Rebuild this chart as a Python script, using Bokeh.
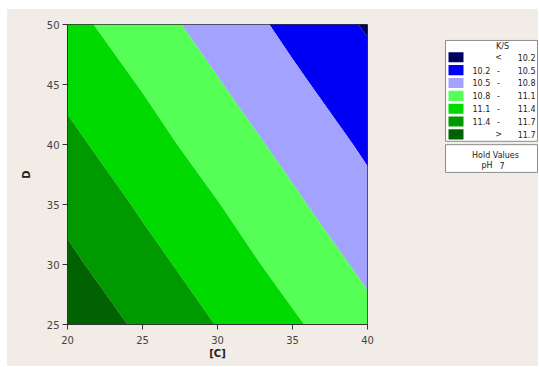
import numpy as np
from bokeh.plotting import figure
from bokeh.layouts import row, column
from bokeh.models import Range1d, Spacer
from bokeh.core.properties import value
from bokeh.embed import file_html
from bokeh.resources import INLINE

# ---- data ----
C_vals = [20, 25, 30, 35, 40]
D_vals = [25, 30, 35, 40, 45, 50]
# K/S values on the grid: one row per D value, one column per C value
KS = [
    [11.90, 11.65, 11.39, 11.14, 10.88],   # D = 25
    [11.76, 11.50, 11.25, 10.99, 10.74],   # D = 30
    [11.62, 11.36, 11.11, 10.85, 10.59],   # D = 35
    [11.47, 11.22, 10.96, 10.71, 10.45],   # D = 40
    [11.33, 11.08, 10.82, 10.56, 10.31],   # D = 45
    [11.19, 10.93, 10.68, 10.42, 10.17],   # D = 50
]
levels = [9.0, 10.2, 10.5, 10.8, 11.1, 11.4, 11.7, 13.0]
band_colors = ["#000060", "#0000F5", "#A3A3FF", "#55FF55", "#00DA00", "#009A00", "#006200"]
band_lo = ["", "10.2", "10.5", "10.8", "11.1", "11.4", ""]
band_mid = ["<", "-", "-", "-", "-", "-", ">"]
band_hi = ["10.2", "10.5", "10.8", "11.1", "11.4", "11.7", "11.7"]
x_ticks = [20, 25, 30, 35, 40]
y_ticks = [25, 30, 35, 40, 45, 50]
legend_title = "K/S"
hold_title = "Hold Values"
hold_name = "pH"
hold_value = "7"

BG = "#F1ECE6"
FONT = "DejaVu Sans"

# ---- main contour plot ----
PW, PH = 380, 357
p = figure(width=PW, height=PH, x_range=Range1d(20, 40), y_range=Range1d(25, 50),
           output_backend="svg", toolbar_location=None,
           min_border_left=60, min_border_right=20, min_border_top=15, min_border_bottom=42)
p.border_fill_color = BG
p.background_fill_color = BG
p.outline_line_color = "#333333"
p.grid.visible = False

X, Y = np.meshgrid(np.array(C_vals, dtype=float), np.array(D_vals, dtype=float))
Z = np.array(KS, dtype=float)
p.contour(X, Y, Z, levels, fill_color=band_colors, line_color=None)

p.xaxis.ticker = x_ticks
p.yaxis.ticker = y_ticks
for ax in (p.xaxis[0], p.yaxis[0]):
    ax.axis_line_color = "#333333"
    ax.major_tick_line_color = "#333333"
    ax.major_tick_out = 5
    ax.major_tick_in = 0
    ax.minor_tick_line_color = None
    ax.major_label_text_font = FONT
    ax.major_label_text_font_size = "10px"
    ax.major_label_text_color = "#444444"
    ax.axis_label_text_font = FONT
    ax.axis_label_text_font_size = "10px"
    ax.axis_label_text_font_style = "bold"
    ax.axis_label_text_color = "#222222"
p.xaxis.axis_label = "[C]"
p.yaxis.axis_label = "D"
p.xaxis.major_label_standoff = 6
p.xaxis.axis_label_standoff = 1
p.yaxis.major_label_standoff = 3
p.yaxis.axis_label_standoff = 12

# ---- legend panel ----
LW, LH = 151, PH
leg = figure(width=LW, height=LH, x_range=Range1d(0, LW), y_range=Range1d(LH, 0),
             output_backend="svg", toolbar_location=None,
             x_axis_location=None, y_axis_location=None, min_border=0)
leg.border_fill_color = BG
leg.background_fill_color = BG
leg.outline_line_color = None
leg.grid.visible = False

# boxes
leg.quad(left=[58, 58], right=[150, 150], top=[19, 143], bottom=[139, 176],
         fill_color="white", line_color="#8C8C8C", line_width=1)

n = len(band_colors)
row_y = [39 + 15.3 * i for i in range(n)]
leg.quad(left=[61] * n, right=[76] * n, top=[y - 6 for y in row_y], bottom=[y + 6 for y in row_y],
         fill_color=band_colors, line_color=None)

tstyle = dict(text_font=value(FONT), text_font_size=value("8px"), text_color="#222222",
              text_baseline="middle")
leg.text(x=[115], y=[26], text=[legend_title], text_align="center", **tstyle)
leg.text(x=[85] * n, y=row_y, text=band_lo, text_align="left", **tstyle)
leg.text(x=[111] * n, y=row_y, text=band_mid, text_align="center", **tstyle)
leg.text(x=[148] * n, y=row_y, text=band_hi, text_align="right", **tstyle)
leg.text(x=[108], y=[156], text=[hold_title], text_align="center", **tstyle)
leg.text(x=[94], y=[168], text=[hold_name], text_align="left", **tstyle)
leg.text(x=[112], y=[168], text=[hold_value], text_align="left", **tstyle)

inner = row(p, leg, spacing=0, styles={"background-color": BG})
layout = column(Spacer(height=9), row(Spacer(width=7), inner, spacing=0), spacing=0)
open("out.html", "w").write(file_html(layout, INLINE))
